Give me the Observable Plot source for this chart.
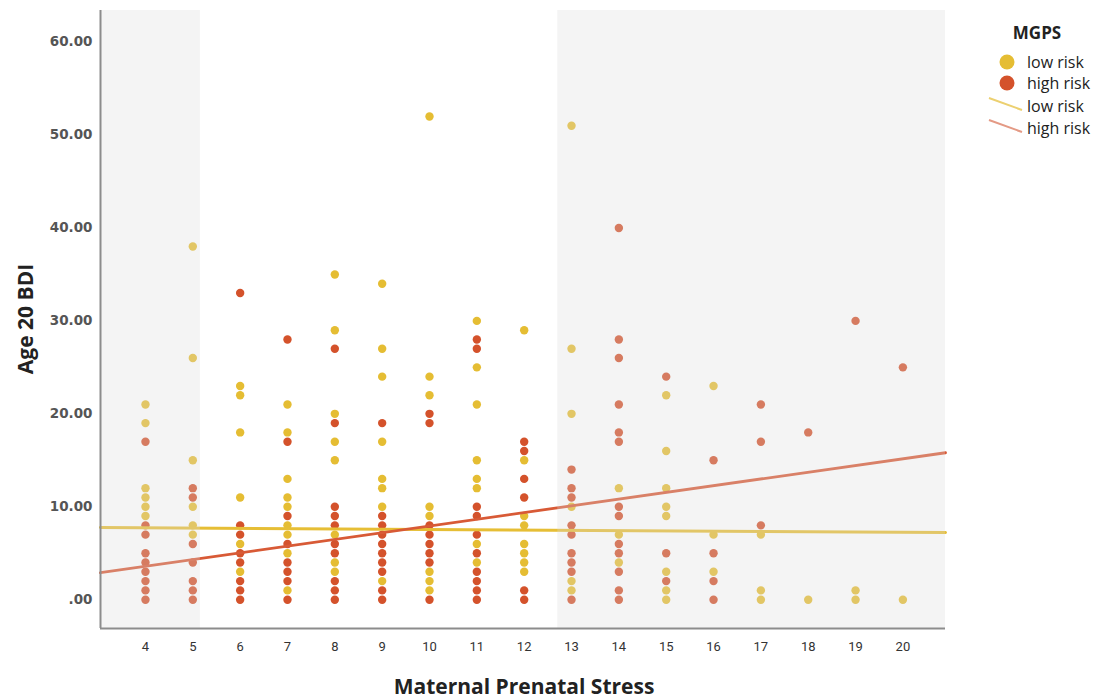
<!DOCTYPE html>
<html><head><meta charset="utf-8">
<script src="https://cdn.jsdelivr.net/npm/d3@7"></script>
<script src="https://cdn.jsdelivr.net/npm/@observablehq/plot@0.6"></script>
<style>body{margin:0;background:#fff;} #chart{position:relative;width:1115px;height:700px;}</style>
</head><body><div id="chart"></div>
<script>
const stressLevels = [4,5,6,7,8,9,10,11,12,13,14,15,16,17,18,19,20];
const lowRiskBDI = [
  [21,19,12,11,10,9],
  [38,26,15,10,8,7],
  [23,22,18,11,6,3],
  [21,18,13,11,10,8,7,5,1],
  [35,29,20,17,15,7,4,3],
  [34,27,24,17,13,12,10,2],
  [52,24,22,10,9,3,2,1],
  [30,25,21,15,13,12,6,4],
  [29,15,9,8,6,5,4,3],
  [51,27,20,10,2,1],
  [12,7,4],
  [22,16,12,10,9,3,1,0],
  [23,7,3],
  [7,1,0],
  [0],
  [1,0],
  [0]
];
const highRiskBDI = [
  [17,8,7,5,4,3,2,1,0],
  [12,11,6,4,2,1,0],
  [33,8,7,5,4,2,1,0],
  [28,17,9,6,4,3,2,0],
  [27,19,10,9,8,6,5,2,1,0],
  [19,9,8,7,6,5,4,3,1,0],
  [20,19,8,7,6,5,4,0],
  [28,27,10,9,7,5,3,2,1,0],
  [17,16,13,11,1,0],
  [14,12,11,8,7,5,4,3,0],
  [40,28,26,21,18,17,10,9,6,5,3,1,0],
  [24,5,2],
  [15,5,2,0],
  [21,17,8],
  [18],
  [30],
  [25]
];
const groups = ["low risk", "high risk"];
const dotColors = ["#e5bd33", "#d4522b"];
const lineColors = ["#e6be35", "#d85a36"];
const fitIntercepts = [7.85, 0.70];
const fitSlopes = [-0.030, 0.723];
const shadedBands = [[3.05, 5.16], [12.71, 20.9]];
const xTicks = [4,5,6,7,8,9,10,11,12,13,14,15,16,17,18,19,20];
const yTicks = [0,10,20,30,40,50,60];
const xDomain = [3.05, 20.9];
const yDomain = [-3.1, 63.4];

const points = [];
stressLevels.forEach((s, i) => {
  lowRiskBDI[i].forEach(b => points.push({stress: s, bdi: b, group: groups[0]}));
  highRiskBDI[i].forEach(b => points.push({stress: s, bdi: b, group: groups[1]}));
});
const fitLine = i => xDomain.map(x => ({stress: x, bdi: fitIntercepts[i] + fitSlopes[i] * x}));
const bands = shadedBands.map(([x1, x2]) => ({x1, x2}));

const svg = Plot.plot({
  width: 1115, height: 700,
  marginLeft: 100, marginRight: 170, marginTop: 10, marginBottom: 72,
  style: {fontFamily: "DejaVu Sans", background: "transparent"},
  x: {domain: xDomain},
  y: {domain: yDomain},
  color: {domain: groups, range: dotColors},
  marks: [
    Plot.dot(points, {x: "stress", y: "bdi", fill: "group", r: 4.2}),
    Plot.line(fitLine(0), {x: "stress", y: "bdi", stroke: lineColors[0], strokeWidth: 3}),
    Plot.line(fitLine(1), {x: "stress", y: "bdi", stroke: lineColors[1], strokeWidth: 2.8}),
    Plot.rect(bands, {x1: "x1", x2: "x2", fill: "#dcdcdc", fillOpacity: 0.3}),
    Plot.ruleX([xDomain[0]], {stroke: "#8c8c8c", strokeWidth: 2}),
    Plot.ruleY([yDomain[0]], {stroke: "#8c8c8c", strokeWidth: 2}),
    Plot.axisX({ticks: xTicks, tickSize: 0, tickPadding: 13, label: null, tickFormat: d => String(d),
      fill: "#333", fontSize: 13, fontFamily: "Liberation Sans Narrow, Roboto, sans-serif"}),
    Plot.axisY({ticks: yTicks, tickSize: 0, tickPadding: 8, label: null,
      tickFormat: d => d === 0 ? ".00" : d.toFixed(2),
      fill: "#555", fontSize: 13.5, fontWeight: "bold", fontFamily: "DejaVu Sans"})
  ]
});

const s = d3.select(svg);
s.append("text").attr("x", 524).attr("y", 694).attr("text-anchor", "middle")
  .attr("font-family", "Open Sans").attr("font-weight", "bold").attr("font-size", 21)
  .attr("fill", "#222").text("Maternal Prenatal Stress");
s.append("text").attr("transform", "translate(33,319) rotate(-90)").attr("text-anchor", "middle")
  .attr("font-family", "Open Sans").attr("font-weight", "bold").attr("font-size", 21)
  .attr("fill", "#222").text("Age 20 BDI");

const lg = s.append("g").attr("font-family", "Open Sans").attr("fill", "#222").attr("text-anchor", "start");
lg.append("text").attr("x", 1037).attr("y", 39).attr("text-anchor", "middle")
  .attr("font-weight", "bold").attr("font-size", 17).text("MGPS");
groups.forEach((g, i) => {
  const cy = 62 + i * 21;
  lg.append("circle").attr("cx", 1007).attr("cy", cy).attr("r", 7.5).attr("fill", dotColors[i]);
  lg.append("text").attr("x", 1027).attr("y", cy + 6).attr("text-anchor", "start").attr("font-size", 16).text(g);
});
groups.forEach((g, i) => {
  const cy = 106 + i * 22;
  lg.append("line").attr("x1", 989).attr("y1", cy - 8).attr("x2", 1022).attr("y2", cy + 4)
    .attr("stroke", i === 0 ? "#ecd070" : "#e49a85").attr("stroke-width", 2);
  lg.append("text").attr("x", 1027).attr("y", cy + 6).attr("text-anchor", "start").attr("font-size", 16).text(g);
});

document.getElementById("chart").appendChild(svg);
</script>
</body></html>
